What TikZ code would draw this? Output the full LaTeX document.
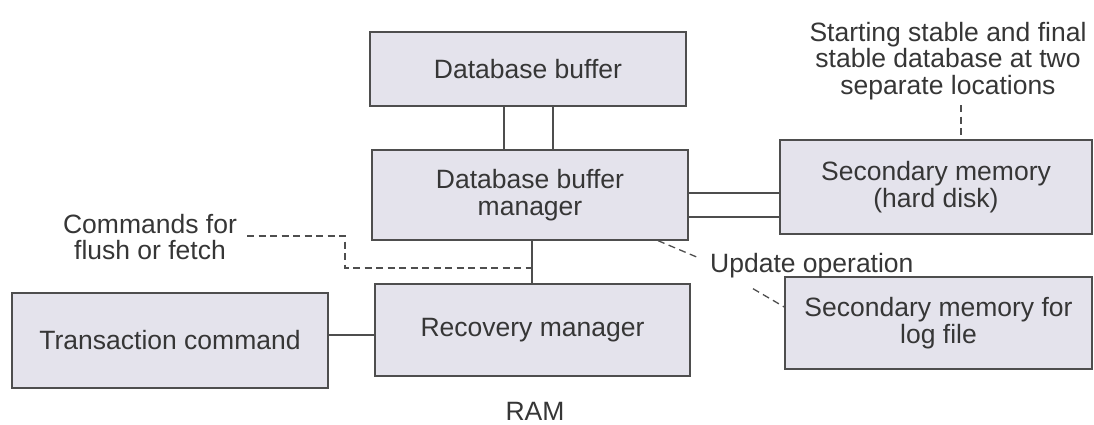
\documentclass[tikz,border=0pt]{standalone}
\usepackage{fontspec}
\setmainfont{Liberation Sans}
\usetikzlibrary{calc}
\definecolor{boxfill}{HTML}{E4E3EC}
\definecolor{linec}{HTML}{4E4E4E}
\definecolor{textc}{HTML}{363636}
\begin{document}
\begin{tikzpicture}[x=1pt,y=-1pt,
  every node/.style={text=textc, font=\fontsize{26.5}{26.5}\selectfont},
  box/.style={draw=linec, fill=boxfill, line width=1.3pt, inner sep=0pt, align=center, anchor=center},
  conn/.style={draw=linec, line width=1.3pt},
  dconn/.style={draw=linec, line width=1.3pt, dashed, dash pattern=on 7pt off 4.5pt},
  lbl/.style={inner sep=0pt, align=center}]
\useasboundingbox (0,0) rectangle (1094,424);
\clip (0,0) rectangle (1094,424);
% boxes
\node[box, minimum width=316pt, minimum height=74pt] (dbbuf) at (528,69) {Database buffer};
\node[box, minimum width=316pt, minimum height=90pt] (mgr) at (530,195) {Database buffer\\manager};
\node[box, minimum width=312pt, minimum height=94pt] (smhd) at (936,187) {Secondary memory\\(hard disk)};
\node[box, minimum width=307pt, minimum height=92pt] (smlog) at (938.5,323) {Secondary memory for\\log file};
\node[box, minimum width=316pt, minimum height=95pt] (trans) at (170,340.5) {Transaction command};
\node[box, minimum width=315pt, minimum height=92pt] (rec) at (532.5,330) {Recovery manager};
% labels
\node[lbl, anchor=north] (start) at (948,22) {Starting stable and final\\stable database at two\\separate locations};
\node[lbl, anchor=north] (cmd) at (150,214) {Commands for\\flush or fetch};
\node[lbl, anchor=base west] (upd) at (710,272) {Update operation};
\node[lbl, anchor=base] (ram) at (535,420) {RAM};
% solid connectors
\draw[conn] ([xshift=-24pt]dbbuf.south) -- ([xshift=-24pt]dbbuf.south |- mgr.north);
\draw[conn] ([xshift=25pt]dbbuf.south) -- ([xshift=25pt]dbbuf.south |- mgr.north);
\draw[conn] ([yshift=2pt]mgr.east) -- ([yshift=2pt]mgr.east -| smhd.west);
\draw[conn] ([yshift=-22pt]mgr.east) -- ([yshift=-22pt]mgr.east -| smhd.west);
\draw[conn] ([xshift=2pt]mgr.south) -- ([xshift=2pt]mgr.south |- rec.north);
\draw[conn] ([yshift=5.5pt]trans.east) -- ([yshift=5.5pt]trans.east -| rec.west);
% dashed connectors
\coordinate (cmdend) at ([xshift=2pt]mgr.south |- 0,268);
\draw[dconn] (247,236) -- (345,236) -- (345,268) -- (cmdend);
\draw[dconn] ([xshift=128pt]mgr.south) -- ($(upd.west)+(-13,-8)$);
\draw[dconn] ($(upd.south west)+(43,11)$) -- (smlog.north west |- 0,307);
\draw[dconn] (start.south -| 961,0) ++(0,5) -- (smhd.north -| 961,0);
\end{tikzpicture}
\end{document}
